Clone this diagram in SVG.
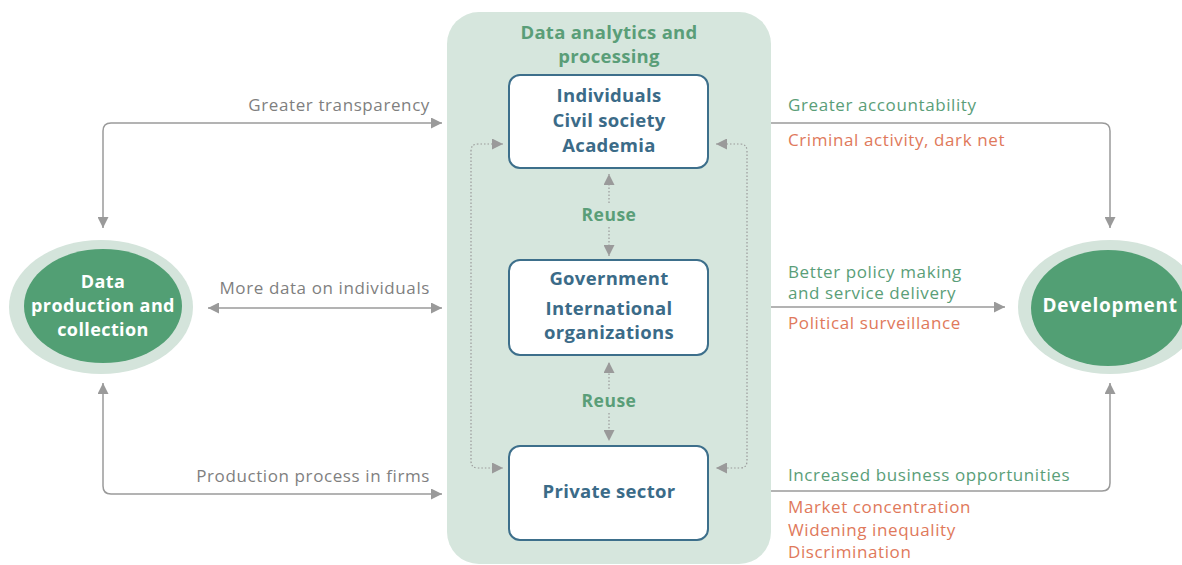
<svg xmlns="http://www.w3.org/2000/svg" width="1182" height="565" viewBox="0 0 1182 565">
  <defs>
    <marker id="arr" viewBox="0 0 10 10" refX="10" refY="5" markerWidth="11" markerHeight="11" markerUnits="userSpaceOnUse" orient="auto-start-reverse">
      <path d="M0,0 L10,5 L0,10 Z" fill="#9a9a9a"/>
    </marker>
    <style>
      text { font-family: "Open Sans", "Noto Sans", "Liberation Sans", sans-serif; }
      .lbl { font-size: 17px; letter-spacing: 0.6px; fill: #7f7f7f; }
      .good { font-size: 17px; letter-spacing: 0.6px; fill: #5a9e78; }
      .bad { font-size: 17px; letter-spacing: 0.6px; fill: #e0795b; }
      .node { font-size: 18.5px; letter-spacing: 0.3px; font-weight: 700; fill: #3b6b88; text-anchor: middle; }
      .oval { font-size: 18px; letter-spacing: 0.4px; font-weight: 700; fill: #ffffff; text-anchor: middle; }
      .dev { font-size: 19px; letter-spacing: 0.7px; }
      .title { font-size: 18.5px; letter-spacing: 0.3px; font-weight: 700; fill: #5a9e78; text-anchor: middle; }
      .reuse { font-size: 17.5px; letter-spacing: 0.5px; font-weight: 700; fill: #5a9e78; text-anchor: middle; }
      .solid { fill: none; stroke: #9a9a9a; stroke-width: 1.5; }
      .dot { fill: none; stroke: #9a9a9a; stroke-width: 1.2; stroke-dasharray: 1.5 2; }
      .box { fill: #ffffff; stroke: #3d6f8b; stroke-width: 2; }
    </style>
  </defs>

  <rect width="1182" height="565" fill="#ffffff"/>

  <!-- central processing panel -->
  <g id="panel">
    <rect x="447" y="12" width="324" height="552" rx="32" fill="#d6e6dd"/>
    <text class="title" x="609" y="39">Data analytics and</text>
    <text class="title" x="609" y="63">processing</text>
  </g>

  <!-- connectors -->
  <g id="connectors">
    <!-- left side -->
    <path class="solid" d="M442,123 H111 Q103,123 103,131 V228" marker-start="url(#arr)" marker-end="url(#arr)"/>
    <path class="solid" d="M208,308 H442" marker-start="url(#arr)" marker-end="url(#arr)"/>
    <path class="solid" d="M103,383 V486 Q103,494 111,494 H442" marker-start="url(#arr)" marker-end="url(#arr)"/>
    <!-- right side -->
    <path class="solid" d="M771,123 H1102 Q1110,123 1110,131 V228" marker-end="url(#arr)"/>
    <path class="solid" d="M771,307 H1005" marker-end="url(#arr)"/>
    <path class="solid" d="M771,491 H1102 Q1110,491 1110,483 V383" marker-end="url(#arr)"/>
    <!-- reuse between boxes -->
    <path class="dot" d="M609,203 V174" marker-end="url(#arr)"/>
    <path class="dot" d="M609,227 V256" marker-end="url(#arr)"/>
    <path class="dot" d="M609,389 V362" marker-end="url(#arr)"/>
    <path class="dot" d="M609,413 V441" marker-end="url(#arr)"/>
    <!-- outer loops -->
    <path class="dot" d="M503,144 H478 Q471,144 471,151 V461 Q471,468 478,468 H503" marker-start="url(#arr)" marker-end="url(#arr)"/>
    <path class="dot" d="M716,144 H740 Q747,144 747,151 V461 Q747,468 740,468 H716" marker-start="url(#arr)" marker-end="url(#arr)"/>
  </g>

  <g id="reuse-labels">
    <text class="reuse" x="609" y="221">Reuse</text>
    <text class="reuse" x="609" y="407">Reuse</text>
  </g>

  <g id="actors-civil">
    <rect class="box" x="509" y="75" width="199" height="93" rx="11"/>
    <text class="node" x="609" y="102">Individuals</text>
    <text class="node" x="609" y="127">Civil society</text>
    <text class="node" x="609" y="152">Academia</text>
  </g>

  <g id="actors-government">
    <rect class="box" x="509" y="260" width="199" height="95" rx="11"/>
    <text class="node" x="609" y="285">Government</text>
    <text class="node" x="609" y="315">International</text>
    <text class="node" x="609" y="339">organizations</text>
  </g>

  <g id="actors-private">
    <rect class="box" x="509" y="446" width="199" height="94" rx="11"/>
    <text class="node" x="609" y="498">Private sector</text>
  </g>

  <g id="data-production">
    <ellipse cx="101" cy="307" rx="92" ry="67" fill="#d4e4db"/>
    <ellipse cx="103" cy="306" rx="79" ry="57" fill="#529f74"/>
    <text class="oval" x="103" y="288">Data</text>
    <text class="oval" x="103" y="312">production and</text>
    <text class="oval" x="103" y="336">collection</text>
  </g>

  <g id="development">
    <ellipse cx="1110" cy="307" rx="92" ry="67" fill="#d4e4db"/>
    <ellipse cx="1108" cy="308" rx="77" ry="58" fill="#529f74"/>
    <text class="oval dev" x="1110" y="312">Development</text>
  </g>

  <!-- connector labels -->
  <g id="labels-left">
    <text class="lbl" x="430" y="111" text-anchor="end">Greater transparency</text>
    <text class="lbl" x="430" y="294" text-anchor="end">More data on individuals</text>
    <text class="lbl" x="430" y="482" text-anchor="end">Production process in firms</text>
  </g>

  <g id="labels-right">
    <text class="good" x="788" y="111">Greater accountability</text>
    <text class="bad" x="788" y="146">Criminal activity, dark net</text>
    <text class="good" x="788" y="278">Better policy making</text>
    <text class="good" x="788" y="299">and service delivery</text>
    <text class="bad" x="788" y="329">Political surveillance</text>
    <text class="good" x="788" y="481">Increased business opportunities</text>
    <text class="bad" x="788" y="513">Market concentration</text>
    <text class="bad" x="788" y="536">Widening inequality</text>
    <text class="bad" x="788" y="558">Discrimination</text>
  </g>
</svg>
